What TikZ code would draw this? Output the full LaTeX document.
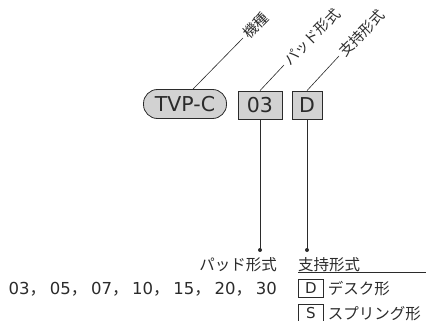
\documentclass[tikz,border=0pt]{standalone}
\usepackage{fontspec}
\setmainfont{Noto Sans CJK JP}
\newfontfamily\latfont{DejaVu Sans}
\usepackage{tikz}
\definecolor{boxgray}{HTML}{D2D2D2}
\definecolor{ink}{HTML}{2B2B2B}
\newcommand{\lnum}[1]{{\latfont #1}}

\begin{document}
\begin{tikzpicture}[x=1pt,y=-1pt,
    codebox/.style={draw=ink,fill=boxgray,line width=0.8pt,minimum height=28pt,inner sep=0pt,
        font=\latfont\fontsize{20.5}{21}\selectfont,text=ink},
    pill/.style={codebox,rounded corners=14pt,minimum width=83pt,minimum height=29pt},
    lead/.style={ink,line width=0.6pt},
    tag/.style={rotate=45,anchor=west,inner sep=3pt,font=\fontsize{14.5}{15}\selectfont,text=ink},
    jp/.style={font=\fontsize{15.5}{16}\selectfont,text=ink,inner sep=0pt},
    optbox/.style={draw=ink,line width=0.6pt,minimum width=25pt,minimum height=18pt,inner sep=0pt,
        font=\latfont\fontsize{15}{15}\selectfont,text=ink}]
    \useasboundingbox (0,0) rectangle (426,321);

    % code boxes
    \node[pill] (model) at (185,104) {TVP-C};
    \node[codebox,minimum width=44pt] (pad) at (260,105) {03};
    \node[codebox,minimum width=30pt] (sup) at (307,105) {D};

    % leaders with slanted labels
    \coordinate (modelend) at (243,38);
    \coordinate (padend) at (284,65);
    \coordinate (supend) at (339,56);
    \draw[lead] ([xshift=8pt]model.north) -- (modelend) node[tag] (modeltag) {機種};
    \draw[lead] (pad.north) -- (padend) node[tag] (padtag) {パッド形式};
    \draw[lead] (sup.north) -- (supend) node[tag] (suptag) {支持形式};

    % drop lines to the option lists
    \coordinate (paddot) at (260,250);
    \coordinate (supdot) at (307,250);
    \draw[lead] (pad.south) -- (paddot);
    \draw[lead] (sup.south) -- (supdot);
    \fill[ink] (paddot) circle (2pt);
    \fill[ink] (supdot) circle (2pt);

    % pad list
    \node[jp,anchor=east] (padhead) at (277,265) {パッド形式};
    \node[jp,anchor=east,font=\fontsize{16.5}{17}\selectfont] (padlist) at (277,289)
        {\lnum{03}，\kern3.7pt\lnum{05}，\kern3.7pt\lnum{07}，\kern3.7pt\lnum{10}，\kern3.7pt\lnum{15}，\kern3.7pt\lnum{20}，\kern3.7pt\lnum{30}};

    % support list
    \node[jp,anchor=west] (suphead) at (298,265) {支持形式};
    \coordinate (ruleL) at (298,272);
    \coordinate (ruleR) at (426,272);
    \draw[lead] (ruleL) -- (ruleR);
    \node[optbox,anchor=north west] (optD) at (298,279) {D};
    \node[jp,anchor=west] (optDtxt) at ([xshift=4pt]optD.east) {デスク形};
    \node[optbox,anchor=north west] (optS) at (298,304) {S};
    \node[jp,anchor=west] (optStxt) at ([xshift=4pt]optS.east) {スプリング形};
\end{tikzpicture}
\end{document}
